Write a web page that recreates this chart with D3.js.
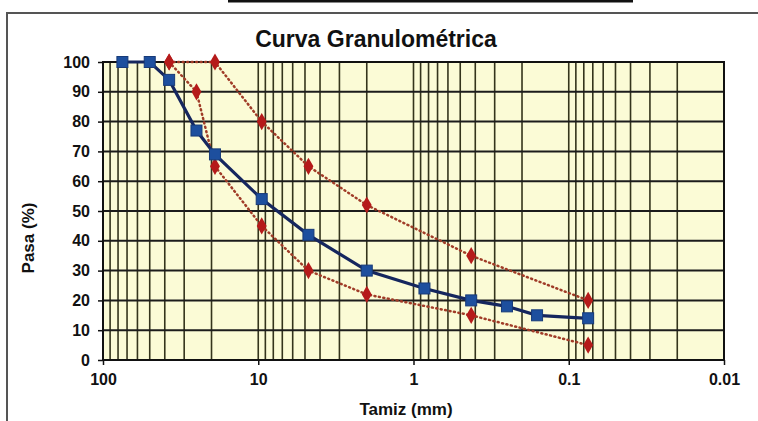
<!DOCTYPE html>
<html lang="es">
<head>
<meta charset="utf-8">
<title>Curva Granulométrica</title>
<style>
body { margin: 0; background: #fff; }
svg { display: block; }
.tick text { font: bold 16px "Liberation Sans", Arial, sans-serif; fill: #111; }
.title { font: bold 23px "Liberation Sans", Arial, sans-serif; fill: #111; }
.axis-title { font: bold 17px "Liberation Sans", Arial, sans-serif; fill: #111; }
</style>
</head>
<body>
<svg width="758" height="421"></svg>

<script src="https://cdn.jsdelivr.net/npm/d3@7"></script>
<script>

// sieve openings (mm) and % passing of the sample
const tamiz = [75, 50, 37.5, 25, 19, 9.5, 4.75, 2.0, 0.85, 0.425, 0.25, 0.16, 0.075];
const pasa = [100, 100, 94, 77, 69, 54, 42, 30, 24, 20, 18, 15, 14];

// specification band
const tamizSup = [37.5, 19, 9.5, 4.75, 2.0, 0.425, 0.075];
const limiteSup = [100, 100, 80, 65, 52, 35, 20];
const tamizInf = [37.5, 25, 19, 9.5, 4.75, 2.0, 0.425, 0.075];
const limiteInf = [100, 90, 65, 45, 30, 22, 15, 5];

const xTicks = [100, 10, 1, 0.1, 0.01];
const yTicks = [0, 10, 20, 30, 40, 50, 60, 70, 80, 90, 100];

var svg = d3.select("svg"),
    margin = {top: 62, right: 34, bottom: 61, left: 103},
    width = +svg.attr("width") - margin.left - margin.right,
    height = +svg.attr("height") - margin.top - margin.bottom;

// chart frame (and the edge of the box above it)
svg.append("line")
  .attr("x1", 228).attr("x2", 633).attr("y1", 1).attr("y2", 1)
  .attr("stroke", "#111").attr("stroke-width", 3);
svg.append("path")
  .attr("d", "M7,421V13H758")
  .attr("fill", "none").attr("stroke", "#555").attr("stroke-width", 2);

svg.append("text")
  .attr("class", "title")
  .attr("x", 376).attr("y", 47)
  .attr("text-anchor", "middle")
  .text("Curva Granulométrica");

let x = d3.scaleLog().domain([100, 0.01]).range([0, width]);
let y = d3.scaleLinear().domain([0, 100]).range([height, 0]);

let graph = svg.append("g")
    .attr("transform", "translate(" + margin.left + "," + margin.top + ")");

graph.append("rect")
  .attr("width", width).attr("height", height)
  .attr("fill", "#fbfbd6");

// log grid: every 1..9 of each decade
let minor = [];
[0.01, 0.1, 1, 10].forEach(dec => {
  for (let k = 1; k <= 9; k++) minor.push(dec * k);
});

graph.append("g")
  .selectAll("line")
  .data(minor)
  .enter().append("line")
    .attr("x1", d => x(d)).attr("x2", d => x(d))
    .attr("y1", 0).attr("y2", height)
    .attr("stroke", "#34341c")
    .attr("stroke-width", 1.6);

graph.append("g")
  .selectAll("line")
  .data(yTicks)
  .enter().append("line")
    .attr("x1", 0).attr("x2", width)
    .attr("y1", d => y(d)).attr("y2", d => y(d))
    .attr("stroke", "#1c1c1c")
    .attr("stroke-width", 2);

graph.append("rect")
  .attr("width", width).attr("height", height)
  .attr("fill", "none").attr("stroke", "#111").attr("stroke-width", 2);

// axes
graph.append("g")
  .attr("transform", "translate(0," + height + ")")
  .call(d3.axisBottom(x).tickValues(xTicks).tickFormat(d3.format("")).tickSize(5).tickPadding(9))
  .call(g => g.select(".domain").remove())
  .call(g => g.selectAll(".tick line").attr("stroke", "#111").attr("stroke-width", 1.5));

graph.append("g")
  .call(d3.axisLeft(y).tickValues(yTicks).tickSize(5).tickPadding(8))
  .call(g => g.select(".domain").remove())
  .call(g => g.selectAll(".tick line").attr("stroke", "#111").attr("stroke-width", 1.5));

svg.append("text")
  .attr("class", "axis-title")
  .attr("x", 406).attr("y", 415)
  .attr("text-anchor", "middle")
  .text("Tamiz (mm)");

svg.append("text")
  .attr("class", "axis-title")
  .attr("transform", "translate(34,238) rotate(-90)")
  .attr("text-anchor", "middle")
  .text("Pasa (%)");

// series
let line = d3.line()
  .x(d => x(d[0]))
  .y(d => y(d[1]));

let sup = d3.zip(tamizSup, limiteSup);
let inf = d3.zip(tamizInf, limiteInf);
let muestra = d3.zip(tamiz, pasa);

[sup, inf].forEach(serie => {
  graph.append("path")
    .datum(serie)
    .attr("fill", "none")
    .attr("stroke", "#a03c28")
    .attr("stroke-width", 2.5)
    .attr("stroke-linecap", "round")
    .attr("stroke-dasharray", "1,3.5")
    .attr("d", line);

  graph.append("g")
    .selectAll("path")
    .data(serie)
    .enter().append("path")
      .attr("d", d3.symbol().type(d3.symbolDiamond).size(85))
      .attr("transform", d => "translate(" + x(d[0]) + "," + y(d[1]) + ")")
      .attr("fill", "#b51a1a");
});

graph.append("path")
  .datum(muestra)
  .attr("fill", "none")
  .attr("stroke", "#15265e")
  .attr("stroke-width", 3.2)
  .attr("d", line);

graph.append("g")
  .selectAll("rect")
  .data(muestra)
  .enter().append("rect")
    .attr("x", d => x(d[0]) - 5.5)
    .attr("y", d => y(d[1]) - 5.5)
    .attr("width", 11).attr("height", 11)
    .attr("fill", "#1d4f9e")
    .attr("stroke", "#173a78")
    .attr("stroke-width", 1);

</script>
</body>
</html>
